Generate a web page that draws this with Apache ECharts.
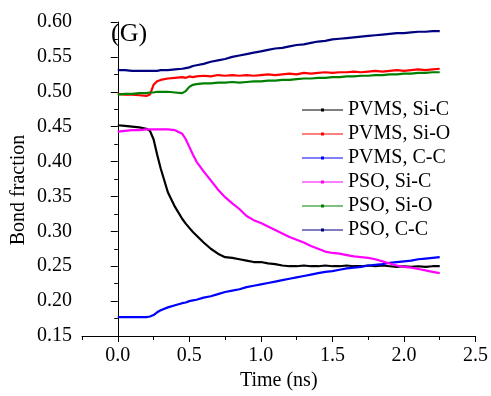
<!DOCTYPE html>
<html>
<head>
<meta charset="utf-8">
<script src="https://cdn.jsdelivr.net/npm/echarts@6/dist/echarts.min.js"></script>
<style>
  html, body { margin: 0; padding: 0; background: #fff; }
  #chart { width: 491px; height: 396px; }
</style>
</head>
<body>
<div id="chart"></div>
<script>
// time points (ns)
const time = [0, 0.05, 0.1, 0.15, 0.2, 0.225, 0.25, 0.275, 0.3, 0.35, 0.4, 0.45, 0.475, 0.5, 0.525, 0.55,
  0.6, 0.65, 0.7, 0.75, 0.8, 0.85, 0.9, 0.95, 1.0, 1.05, 1.1, 1.15, 1.2, 1.25, 1.3, 1.35, 1.4, 1.45, 1.5,
  1.55, 1.6, 1.65, 1.7, 1.75, 1.8, 1.85, 1.9, 1.95, 2.0, 2.05, 2.1, 2.15, 2.2, 2.25];

const pvmsSiC = [0.452, 0.451, 0.450, 0.449, 0.447, 0.444, 0.432, 0.410, 0.390, 0.356, 0.335, 0.318, 0.311, 0.305, 0.299, 0.294,
  0.284, 0.275, 0.268, 0.263, 0.262, 0.260, 0.258, 0.256, 0.256, 0.254, 0.253, 0.251, 0.250, 0.250, 0.251, 0.250, 0.250, 0.251, 0.250,
  0.250, 0.251, 0.250, 0.250, 0.251, 0.250, 0.251, 0.250, 0.249, 0.250, 0.249, 0.250, 0.249, 0.250, 0.250];

const pvmsSiO = [0.497, 0.496, 0.496, 0.495, 0.494, 0.496, 0.510, 0.515, 0.517, 0.519, 0.520, 0.521, 0.520, 0.522, 0.521, 0.522,
  0.523, 0.522, 0.524, 0.523, 0.524, 0.523, 0.524, 0.523, 0.524, 0.525, 0.524, 0.525, 0.526, 0.525, 0.527, 0.526, 0.527, 0.528, 0.527,
  0.528, 0.528, 0.529, 0.528, 0.529, 0.530, 0.529, 0.530, 0.531, 0.530, 0.531, 0.532, 0.531, 0.532, 0.533];

const pvmsCC = [0.177, 0.177, 0.177, 0.177, 0.177, 0.178, 0.180, 0.184, 0.187, 0.191, 0.194, 0.197, 0.198, 0.200, 0.201, 0.202,
  0.205, 0.207, 0.210, 0.213, 0.215, 0.217, 0.220, 0.222, 0.224, 0.226, 0.228, 0.230, 0.232, 0.234, 0.236, 0.238, 0.240, 0.242, 0.243,
  0.245, 0.247, 0.248, 0.249, 0.251, 0.252, 0.253, 0.255, 0.256, 0.257, 0.258, 0.260, 0.261, 0.262, 0.263];

const psoSiC = [0.443, 0.444, 0.445, 0.445, 0.446, 0.446, 0.446, 0.446, 0.446, 0.446, 0.445, 0.440, 0.432, 0.421, 0.410, 0.400,
  0.386, 0.373, 0.360, 0.349, 0.340, 0.332, 0.322, 0.316, 0.312, 0.307, 0.302, 0.297, 0.292, 0.288, 0.284, 0.279, 0.275, 0.271, 0.269,
  0.268, 0.266, 0.264, 0.263, 0.262, 0.260, 0.257, 0.254, 0.251, 0.249, 0.248, 0.246, 0.244, 0.242, 0.240];

const psoSiO = [0.496, 0.497, 0.497, 0.498, 0.498, 0.499, 0.499, 0.500, 0.500, 0.500, 0.499, 0.498, 0.501, 0.507, 0.510, 0.511,
  0.512, 0.512, 0.513, 0.513, 0.514, 0.513, 0.514, 0.515, 0.515, 0.516, 0.516, 0.517, 0.517, 0.518, 0.519, 0.519, 0.520, 0.520, 0.521,
  0.521, 0.522, 0.522, 0.523, 0.523, 0.524, 0.524, 0.525, 0.525, 0.526, 0.526, 0.527, 0.527, 0.528, 0.528];

const psoCC = [0.531, 0.531, 0.530, 0.530, 0.530, 0.530, 0.530, 0.530, 0.531, 0.531, 0.532, 0.533, 0.534, 0.535, 0.537, 0.538,
  0.540, 0.543, 0.545, 0.547, 0.550, 0.552, 0.554, 0.556, 0.558, 0.560, 0.562, 0.563, 0.565, 0.567, 0.568, 0.570, 0.572, 0.573, 0.575,
  0.576, 0.577, 0.578, 0.579, 0.580, 0.581, 0.582, 0.583, 0.584, 0.584, 0.585, 0.586, 0.586, 0.587, 0.587];

const xMajorTicks = [0, 0.5, 1.0, 1.5, 2.0, 2.5];

const seriesDefs = [
  { name: 'PVMS, Si-C', color: '#000000', values: pvmsSiC },
  { name: 'PVMS, Si-O', color: '#ff0000', values: pvmsSiO },
  { name: 'PVMS, C-C', color: '#0000ff', values: pvmsCC },
  { name: 'PSO, Si-C', color: '#ff00ff', values: psoSiC },
  { name: 'PSO, Si-O', color: '#008000', values: psoSiO },
  { name: 'PSO, C-C', color: '#000080', values: psoCC }
];

const font = 'Liberation Serif';
const chart = echarts.init(document.getElementById('chart'));

const option = {
  animation: false,
  backgroundColor: '#fff',
  textStyle: { fontFamily: font, color: '#000' },
  title: {
    text: '(G)',
    left: 106,
    top: 16,
    textStyle: { fontFamily: font, fontSize: 26, fontWeight: 'normal', color: '#000' }
  },
  // y axis title, a bit below the plot middle as in the figure
  graphic: [{
    type: 'text',
    x: 19,
    y: 190,
    rotation: Math.PI / 2,
    style: {
      text: 'Bond fraction',
      fontFamily: font,
      fontSize: 20,
      fill: '#000',
      align: 'center',
      verticalAlign: 'middle'
    }
  }],
  legend: {
    orient: 'vertical',
    left: 297,
    top: 95,
    itemWidth: 41,
    itemHeight: 7,
    itemGap: 4,
    icon: 'path://M0,4.5H41V5.5H0Z M19,3.5H22V6.5H19Z',
    textStyle: { fontFamily: font, fontSize: 20, lineHeight: 20, color: '#000' },
    data: seriesDefs.map(s => s.name)
  },
  grid: { left: 82, right: 13, top: 22, bottom: 54, containLabel: false },
  xAxis: [
    {
      type: 'value',
      min: -0.25,
      max: 2.5,
      interval: 0.25,
      name: 'Time (ns)',
      nameLocation: 'middle',
      nameGap: 35,
      nameTextStyle: { fontFamily: font, fontSize: 20, color: '#000' },
      axisLine: { lineStyle: { color: '#000', width: 1 } },
      axisTick: { inside: false, length: 4, lineStyle: { color: '#000' } },
      axisLabel: {
        fontFamily: font, fontSize: 20, color: '#000', margin: 10,
        formatter: v => (Math.abs(v * 2 - Math.round(v * 2)) < 1e-6 && v >= 0 ? v.toFixed(1) : '')
      },
      splitLine: { show: false }
    },
    {
      type: 'value',
      position: 'bottom',
      min: -0.25,
      max: 2.5,
      axisLine: { show: false },
      axisTick: { show: true, inside: false, length: 6, customValues: xMajorTicks, lineStyle: { color: '#000' } },
      axisLabel: { show: false },
      splitLine: { show: false }
    }
  ],
  yAxis: {
    type: 'value',
    min: 0.15,
    max: 0.60,
    interval: 0.05,
    axisLine: { show: true, lineStyle: { color: '#000', width: 1 } },
    axisTick: { show: true, inside: false, length: 7, lineStyle: { color: '#000' } },
    minorTick: { show: true, splitNumber: 2, length: 3.5, lineStyle: { color: '#000' } },
    axisLabel: { fontFamily: font, fontSize: 20, color: '#000', margin: 10, formatter: v => v.toFixed(2) },
    splitLine: { show: false }
  },
  series: seriesDefs.map(s => ({
    name: s.name,
    type: 'line',
    xAxisIndex: 0,
    showSymbol: false,
    symbol: 'circle',
    symbolSize: 3,
    color: s.color,
    lineStyle: { color: s.color, width: 2.2 },
    data: time.map((t, i) => [t, s.values[i]])
  }))
};

chart.setOption(option);
</script>
</body>
</html>
